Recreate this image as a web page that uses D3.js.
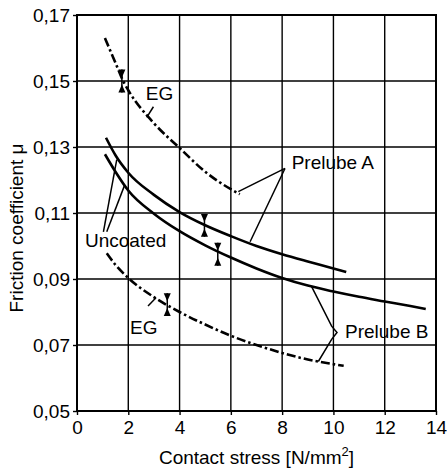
<!DOCTYPE html>
<html>
<head>
<meta charset="utf-8">
<script src="https://cdn.jsdelivr.net/npm/d3@7"></script>
<style>
  body { margin: 0; background: #fff; }
  text { font-family: "Liberation Sans", Arial, sans-serif; fill: #000; }
</style>
</head>
<body>
<div id="chart"></div>
<script>
// axis ticks
var xTicks = [0, 2, 4, 6, 8, 10, 12, 14];
var yTicks = [0.05, 0.07, 0.09, 0.11, 0.13, 0.15, 0.17];
var yTickLabels = ["0,05", "0,07", "0,09", "0,11", "0,13", "0,15", "0,17"];

// curves [stress, friction]
var solidUpper = [[1.13, 0.1328], [1.5, 0.1275], [2, 0.1222], [3, 0.1155], [4, 0.1103], [5, 0.1063],
                  [6, 0.1030], [7, 0.1000], [8, 0.0975], [9, 0.0953], [10, 0.0932], [10.5, 0.0921]];
var solidLower = [[1.09, 0.1278], [1.5, 0.1225], [2, 0.1168], [3, 0.1098], [4, 0.1045], [5, 0.1002],
                  [6, 0.0965], [7, 0.0932], [8, 0.0903], [9, 0.0880], [10, 0.0862], [11, 0.0846],
                  [12, 0.0832], [13, 0.0818], [13.6, 0.0809]];
var egUpper = [[1.09, 0.163], [1.5, 0.1555], [1.8, 0.1500], [2, 0.1472], [3, 0.1372], [4, 0.1297],
               [5, 0.1225], [6, 0.1172], [6.35, 0.1157]];
var egLower = [[1.16, 0.0978], [1.5, 0.0943], [2, 0.0903], [3, 0.0845], [4, 0.0800], [5, 0.0762],
               [6, 0.0728], [7, 0.0700], [8, 0.0676], [9, 0.0656], [10, 0.0642], [10.4, 0.0637]];

// scatter bands [x, low, high]
var bands = [[1.75, 0.1465, 0.1535], [4.97, 0.1028, 0.1097], [5.49, 0.0940, 0.1010], [3.52, 0.0788, 0.0857]];

// labels and their leader lines (data units)
var labels = [
  {text: "EG", x: 2.68, y: 0.1442},
  {text: "Prelube A", x: 8.37, y: 0.1233},
  {text: "Uncoated", x: 0.31, y: 0.0998},
  {text: "EG", x: 2.07, y: 0.0733},
  {text: "Prelube B", x: 10.45, y: 0.0721}
];
var leaders = [
  [[2.98, 0.1422], [2.72, 0.1390]],
  [[8.11, 0.1235], [6.29, 0.1165]],
  [[8.11, 0.1235], [6.75, 0.1013]],
  [[1.03, 0.1043], [1.55, 0.1262]],
  [[1.16, 0.1043], [1.85, 0.1183]],
  [[2.77, 0.0818], [3.08, 0.0843]],
  [[9.15, 0.0877], [9.93, 0.0757], [10.14, 0.0738], [9.93, 0.0717], [9.41, 0.0650]]
];

var W = 447, H = 468;
var margin = {top: 15, right: 11, bottom: 57, left: 77};
var width = W - margin.left - margin.right,
    height = H - margin.top - margin.bottom;

var svg = d3.select("#chart").append("svg")
    .attr("width", W)
    .attr("height", H)
  .append("g")
    .attr("transform", "translate(" + margin.left + "," + margin.top + ")");

var x = d3.scaleLinear().domain([0, 14]).range([0, width]);
var y = d3.scaleLinear().domain([0.05, 0.17]).range([height, 0]);

// grid
svg.selectAll(".vg").data(xTicks).enter().append("line")
  .attr("x1", d => x(d)).attr("x2", d => x(d))
  .attr("y1", 0).attr("y2", height)
  .attr("stroke", "#000").attr("stroke-width", 1.4);
svg.selectAll(".hg").data(yTicks).enter().append("line")
  .attr("x1", 0).attr("x2", width)
  .attr("y1", d => y(d)).attr("y2", d => y(d))
  .attr("stroke", "#000").attr("stroke-width", 1.4);

// axes
var xAxis = svg.append("g")
  .attr("transform", "translate(0," + height + ")")
  .call(d3.axisBottom(x).tickValues(xTicks).tickSize(4).tickPadding(6));
var yAxis = svg.append("g")
  .call(d3.axisLeft(y).tickValues(yTicks).tickSize(4).tickPadding(3)
        .tickFormat((d, i) => yTickLabels[i]));
[xAxis, yAxis].forEach(function(a) {
  a.select(".domain").remove();
  a.selectAll("line").attr("stroke", "#000").attr("stroke-width", 1.4);
  a.selectAll("text").style("font-size", "19px")
    .style("font-family", "'Liberation Sans', Arial, sans-serif").attr("fill", "#000");
});

svg.append("rect").attr("x", 0).attr("y", 0).attr("width", width).attr("height", height)
  .attr("fill", "none").attr("stroke", "#000").attr("stroke-width", 2);

// curves
var line = d3.line().x(d => x(d[0])).y(d => y(d[1])).curve(d3.curveMonotoneX);
[solidUpper, solidLower].forEach(function(s) {
  svg.append("path").attr("d", line(s)).attr("fill", "none")
    .attr("stroke", "#000").attr("stroke-width", 2.6);
});
[egUpper, egLower].forEach(function(s) {
  svg.append("path").attr("d", line(s)).attr("fill", "none")
    .attr("stroke", "#000").attr("stroke-width", 2.6)
    .attr("stroke-dasharray", "9,3,2.5,3");
});

// scatter band markers
bands.forEach(function(b) {
  var cx = x(b[0]), top = y(b[2]), bot = y(b[1]);
  svg.append("line").attr("x1", cx).attr("x2", cx).attr("y1", top).attr("y2", bot)
    .attr("stroke", "#000").attr("stroke-width", 1.5);
  svg.append("path")
    .attr("d", "M" + (cx - 3.5) + "," + top + "L" + (cx + 3.5) + "," + top + "L" + cx + "," + (top + 8) + "Z")
    .attr("fill", "#000");
  svg.append("path")
    .attr("d", "M" + (cx - 3.5) + "," + bot + "L" + (cx + 3.5) + "," + bot + "L" + cx + "," + (bot - 8) + "Z")
    .attr("fill", "#000");
});

// leaders
var lline = d3.line().x(d => x(d[0])).y(d => y(d[1]));
leaders.forEach(function(l) {
  svg.append("path").attr("d", lline(l)).attr("fill", "none")
    .attr("stroke", "#000").attr("stroke-width", 1.5);
});

labels.forEach(function(l) {
  svg.append("text").attr("x", x(l.x)).attr("y", y(l.y))
    .style("font-size", "19px").text(l.text);
});

// axis titles
var xt = svg.append("text")
  .attr("x", width / 2).attr("y", height + 53)
  .attr("text-anchor", "middle").style("font-size", "19px");
xt.append("tspan").text("Contact stress [N/mm");
xt.append("tspan").attr("dy", -8).style("font-size", "13px").text("2");
xt.append("tspan").attr("dy", 8).text("]");

svg.append("text")
  .attr("transform", "translate(" + (23 - margin.left) + "," + (228 - margin.top) + ") rotate(-90)")
  .attr("text-anchor", "middle").style("font-size", "19px")
  .text("Friction coefficient μ");
</script>
</body>
</html>
